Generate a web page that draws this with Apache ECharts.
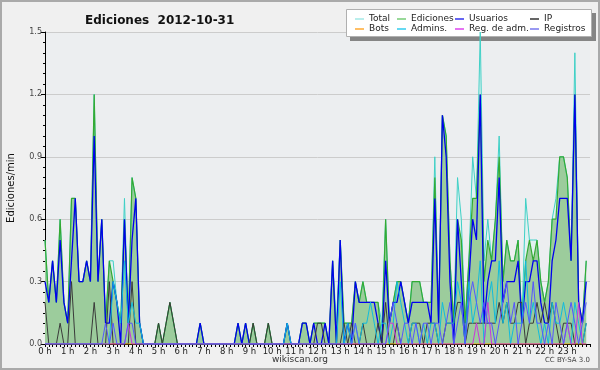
<!DOCTYPE html>
<html>
<head>
<meta charset="utf-8">
<script src="https://cdn.jsdelivr.net/npm/echarts@6/dist/echarts.min.js"></script>
<style>
html,body{margin:0;padding:0;background:#f0f0f0;}
#c{width:600px;height:370px;}
</style>
</head>
<body>
<div id="c"></div>
<script>
// 10-minute bins, 00:00 .. 23:50 (values in ediciones/min)
const total = [
0.5,0.2,0.4,0.2,0.6,0.2, 0.1,0.7,0.7,0.3,0.3,0.4, 0.3,1.2,0.3,0.6,0.1,0.4, 0.4,0.2,0.1,0.7,0.1,0.8,
0.7,0.1,0,0,0,0, 0.1,0,0.1,0.2,0.1,0, 0,0,0,0,0,0.1, 0,0,0,0,0,0,
0,0,0,0.1,0,0.1, 0,0.1,0,0,0,0.1, 0,0,0,0,0.1,0, 0,0,0.1,0.1,0,0.1,
0.1,0.1,0.1,0,0.4,0.1, 0.5,0.1,0.1,0.1,0.3,0.2, 0.3,0.2,0.2,0.2,0.2,0.1, 0.6,0.1,0.2,0.3,0.3,0.2,
0.1,0.3,0.3,0.3,0.2,0.2, 0.2,0.9,0.1,1.1,1.0,0.4, 0.1,0.8,0.6,0.1,0.4,0.9, 0.7,1.5,0.4,0.6,0.4,0.6,
1.0,0.3,0.5,0.4,0.4,0.5, 0.1,0.7,0.5,0.5,0.5,0.3, 0.2,0.3,0.6,0.7,0.9,0.9, 0.8,0.4,1.4,0.2,0.1,0.4
];
const ediciones = [
0.5,0.2,0.4,0.2,0.6,0.2, 0.1,0.7,0.7,0.3,0.3,0.4, 0.3,1.2,0.3,0.6,0.1,0.4, 0.3,0.2,0.1,0.6,0.1,0.8,
0.7,0.1,0,0,0,0, 0.1,0,0.1,0.2,0.1,0, 0,0,0,0,0,0.1, 0,0,0,0,0,0,
0,0,0,0.1,0,0.1, 0,0.1,0,0,0,0.1, 0,0,0,0,0.1,0, 0,0,0.1,0.1,0,0.1,
0.1,0.1,0.1,0,0.4,0, 0.5,0.1,0.1,0.1,0.3,0.2, 0.3,0.2,0.2,0.2,0.2,0, 0.6,0.1,0.2,0.3,0.3,0.2,
0.1,0.3,0.3,0.3,0.2,0.2, 0.2,0.8,0.1,1.1,1.0,0.4, 0.1,0.6,0.5,0.1,0.4,0.7, 0.7,1.2,0.3,0.5,0.4,0.6,
0.9,0.3,0.5,0.4,0.4,0.5, 0.1,0.4,0.5,0.4,0.5,0.3, 0.2,0.3,0.6,0.6,0.9,0.9, 0.8,0.4,1.2,0.2,0.1,0.4
];
const usuarios = [
0.3,0.2,0.4,0.2,0.5,0.2, 0.1,0.4,0.7,0.3,0.3,0.4, 0.3,1.0,0.3,0.6,0.1,0.1, 0.3,0.2,0,0.6,0.1,0.5,
0.7,0.1,0,0,0,0, 0,0,0,0,0,0, 0,0,0,0,0,0.1, 0,0,0,0,0,0,
0,0,0,0.1,0,0.1, 0,0,0,0,0,0, 0,0,0,0,0.1,0, 0,0,0.1,0.1,0,0.1,
0,0,0.1,0,0.4,0, 0.5,0,0.1,0,0.3,0.2, 0.2,0.2,0.2,0.2,0.1,0, 0.4,0.1,0.2,0.2,0.3,0.2,
0.1,0.2,0.2,0.2,0.2,0.2, 0.1,0.7,0.1,1.1,0.9,0.3, 0,0.6,0.3,0,0.3,0.6, 0.5,1.2,0.1,0.3,0.4,0.4,
0.8,0.2,0.3,0.3,0.3,0.4, 0.1,0.3,0.3,0.4,0.4,0.2, 0.1,0.1,0.4,0.5,0.7,0.7, 0.7,0.4,1.2,0.2,0.1,0.3
];
const ip = [
0.2,0,0,0,0.1,0, 0,0.3,0,0,0,0, 0,0.2,0,0,0,0.3, 0,0,0,0,0,0.3,
0,0,0,0,0,0, 0.1,0,0.1,0.2,0.1,0, 0,0,0,0,0,0, 0,0,0,0,0,0,
0,0,0,0,0,0, 0,0.1,0,0,0,0.1, 0,0,0,0,0,0, 0,0,0,0,0,0,
0.1,0.1,0,0,0,0, 0,0.1,0,0.1,0,0, 0.1,0,0,0,0.1,0, 0.2,0,0,0.1,0,0,
0,0.1,0.1,0.1,0,0.1, 0.1,0.1,0,0,0.1,0.1, 0.1,0.2,0.2,0,0.1,0.1, 0.1,0.1,0.1,0.1,0.1,0.1,
0.2,0.1,0.2,0.1,0.1,0.2, 0.2,0,0.1,0.1,0.2,0.1, 0.2,0.1,0.2,0.1,0,0.1, 0.1,0.1,0,0,0,0.1
];
const bots = [
0,0,0,0,0,0, 0,0,0,0,0,0, 0,0,0,0,0,0, 0,0,0,0,0,0,
0,0,0,0,0,0, 0,0,0,0,0,0, 0,0,0,0,0,0, 0,0,0,0,0,0,
0,0,0,0,0,0, 0,0,0,0,0,0, 0,0,0,0,0,0, 0,0,0,0,0,0,
0,0,0,0,0,0, 0,0,0,0,0,0, 0,0,0,0,0,0, 0,0,0,0,0,0,
0,0,0,0,0,0, 0,0,0,0,0,0, 0,0,0,0,0,0, 0,0,0,0,0,0,
0,0,0,0,0,0, 0,0,0,0,0,0, 0,0,0,0,0,0, 0,0,0,0,0,0
];
const admins = [
0,0,0,0,0,0, 0,0,0,0,0,0, 0,0,0,0,0,0, 0.3,0.2,0.1,0.4,0.1,0.2,
0.1,0.1,0,0,0,0, 0,0,0,0,0,0, 0,0,0,0,0,0, 0,0,0,0,0,0,
0,0,0,0,0,0, 0,0,0,0,0,0, 0,0,0,0,0.1,0, 0,0,0,0,0,0,
0,0,0,0,0,0, 0.3,0,0.1,0,0.1,0, 0.1,0.1,0.2,0.1,0,0.1, 0.1,0,0.1,0.3,0.2,0.1,
0,0.1,0.1,0,0.1,0, 0.1,0.1,0,0.2,0.1,0.1, 0.1,0.3,0.2,0,0.3,0.1, 0.2,0.4,0,0.2,0.3,0.1,
0.4,0.1,0.2,0,0.1,0.1, 0.1,0.4,0.1,0.2,0.1,0, 0.1,0,0.2,0.1,0.1,0.2, 0.1,0,0.2,0.1,0,0.1
];
const regAdm = [
0,0,0,0,0,0, 0,0,0,0,0,0, 0,0,0,0,0,0, 0,0,0,0,0.1,0,
0,0,0,0,0,0, 0,0,0,0,0,0, 0,0,0,0,0,0, 0,0,0,0,0,0,
0,0,0,0,0,0, 0,0,0,0,0,0, 0,0,0,0,0,0, 0,0,0,0,0,0,
0,0,0,0,0,0, 0,0,0,0,0,0, 0,0,0,0,0,0, 0,0.1,0.1,0,0,0,
0,0,0,0,0,0, 0,0,0,0,0,0, 0,0,0,0,0,0, 0.1,0,0,0.2,0,0,
0,0,0,0,0,0, 0,0,0,0,0,0, 0,0,0,0,0,0, 0.1,0,0,0.2,0,0
];
const registros = [
0,0,0,0,0,0, 0,0,0,0,0,0, 0,0,0,0,0.1,0, 0.1,0,0,0,0.1,0.1,
0,0,0,0,0,0, 0,0,0,0,0,0, 0,0,0,0,0,0, 0,0,0,0,0,0,
0,0,0,0,0,0, 0,0,0,0,0,0, 0,0,0,0,0,0, 0,0,0,0,0,0,
0,0,0,0,0,0, 0,0,0,0,0.1,0, 0,0,0,0,0,0, 0,0.1,0.2,0.1,0,0.1,
0.1,0,0.1,0,0.1,0.1, 0,0.1,0.1,0,0.1,0.2, 0,0.1,0.2,0,0.2,0.3, 0.2,0.1,0.2,0.1,0.1,0,
0.1,0.2,0.3,0.1,0.2,0, 0.1,0.2,0.1,0.3,0.1,0.1, 0,0.1,0,0.2,0.1,0, 0.1,0.2,0.1,0,0.1,0.2
];
const yTicks = [0, 0.3, 0.6, 0.9, 1.2, 1.5];

// category labels: 10-minute slots from 00:00 to 24:00
const slots = [];
for (let h = 0; h <= 24; h++) {
  for (let m = 0; m < 60; m += 10) {
    slots.push(h + ':' + (m < 10 ? '0' + m : m));
    if (h === 24) break;
  }
}

const FONT = 'DejaVu Sans';
const chart = echarts.init(document.getElementById('c'), null, {renderer: 'canvas'});

function ln(name, data, color, width, extra) {
  return Object.assign({
    name: name, type: 'line', data: data, symbol: 'none', showSymbol: false,
    animation: false, silent: true,
    lineStyle: {color: color, width: width},
    itemStyle: {color: color}
  }, extra || {});
}

const legendBase = {
  orient: 'vertical', top: 14, itemGap: 0, itemWidth: 9, itemHeight: 1.5,
  icon: 'rect', selectedMode: false, z: 20, padding: 0,
  textStyle: {fontFamily: FONT, fontSize: 9, color: '#222', lineHeight: 10, padding: 0}
};
function lg(left, items) {
  return Object.assign({}, legendBase, {left: left, data: items});
}

chart.setOption({
  backgroundColor: '#f0f0f0',
  animation: false,
  title: {
    text: 'Ediciones  2012-10-31', left: 80, top: 10,
    textStyle: {fontFamily: FONT, fontSize: 12, fontWeight: 'bold', color: '#111'}
  },
  graphic: [
    {type: 'rect', shape: {x: 1, y: 1, width: 598, height: 368},
     style: {fill: 'none', stroke: '#aaaaaa', lineWidth: 2}, z: 100},
    {type: 'rect', shape: {x: 350, y: 13, width: 246, height: 28},
     style: {fill: '#858585'}, z: 1},
    {type: 'rect', shape: {x: 346.5, y: 9.5, width: 245, height: 27},
     style: {fill: '#ffffff', stroke: '#b0b0b0', lineWidth: 1}, z: 2},
    {type: 'text', left: 'center', top: 355,
     style: {text: 'wikiscan.org', font: '9px "DejaVu Sans"', fill: '#333'}, z: 100},
    {type: 'text', right: 10, top: 357,
     style: {text: 'CC BY-SA 3.0', font: '7px "DejaVu Sans"', fill: '#444'}, z: 100}
  ],
  legend: [
    lg(355, [{name: 'Total', itemStyle: {color: '#a3e9e6'}}, {name: 'Bots', itemStyle: {color: '#ffaa33'}}]),
    lg(397, [{name: 'Ediciones', itemStyle: {color: '#77cc77'}}, {name: 'Admins.', itemStyle: {color: '#33ccee'}}]),
    lg(455, [{name: 'Usuarios', itemStyle: {color: '#3333ee'}}, {name: 'Reg. de adm.', itemStyle: {color: '#dd44ee'}}]),
    lg(530, [{name: 'IP', itemStyle: {color: '#333333'}}, {name: 'Registros', itemStyle: {color: '#7777ee'}}])
  ],
  grid: {
    left: 45, right: 10, top: 32, bottom: 26, show: true,
    containLabel: false, outerBoundsMode: 'none',
    backgroundColor: '#eceef0', borderWidth: 0
  },
  xAxis: {
    type: 'category', data: slots, boundaryGap: false,
    axisLine: {lineStyle: {color: '#000', width: 1}},
    axisTick: {show: true, interval: 0, length: 3, lineStyle: {color: '#000'}},
    axisLabel: {
      interval: function (i) { return i % 6 === 0 && i < 144; },
      formatter: function (v, i) { return (i / 6) + ' h'; },
      fontFamily: FONT, fontSize: 8.5, color: '#222', margin: 3
    },
    splitLine: {show: false}
  },
  yAxis: {
    type: 'value', min: yTicks[0], max: yTicks[yTicks.length - 1], interval: 0.3,
    name: 'Ediciones/min', nameLocation: 'middle', nameGap: 29, nameRotate: 90,
    nameTextStyle: {fontFamily: FONT, fontSize: 10, color: '#111'},
    axisLine: {show: true, lineStyle: {color: '#000', width: 1}},
    axisTick: {show: true, length: 4, lineStyle: {color: '#000'}},
    minorTick: {show: true, splitNumber: 6, length: 2, lineStyle: {color: '#000'}},
    axisLabel: {
      formatter: function (v) { return v.toFixed(1); },
      fontFamily: FONT, fontSize: 8, color: '#444', margin: 3
    },
    splitLine: {show: true, lineStyle: {color: '#cccccc', width: 1}}
  },
  series: [
    ln('Total', total, '#3fd0c6', 1, {areaStyle: {color: 'rgba(214,244,239,0.75)'}}),
    ln('Ediciones', ediciones, '#33aa33', 1.2, {areaStyle: {color: '#9ccc9c', opacity: 1}}),
    ln('Usuarios', usuarios, '#0000ee', 1.3),
    ln('IP', ip, '#3a3a3a', 1),
    ln('Bots', bots, '#ffa500', 1),
    ln('Admins.', admins, '#11bbdd', 1),
    ln('Reg. de adm.', regAdm, '#cc33dd', 1),
    ln('Registros', registros, '#5555ff', 1)
  ]
});
</script>
</body>
</html>
